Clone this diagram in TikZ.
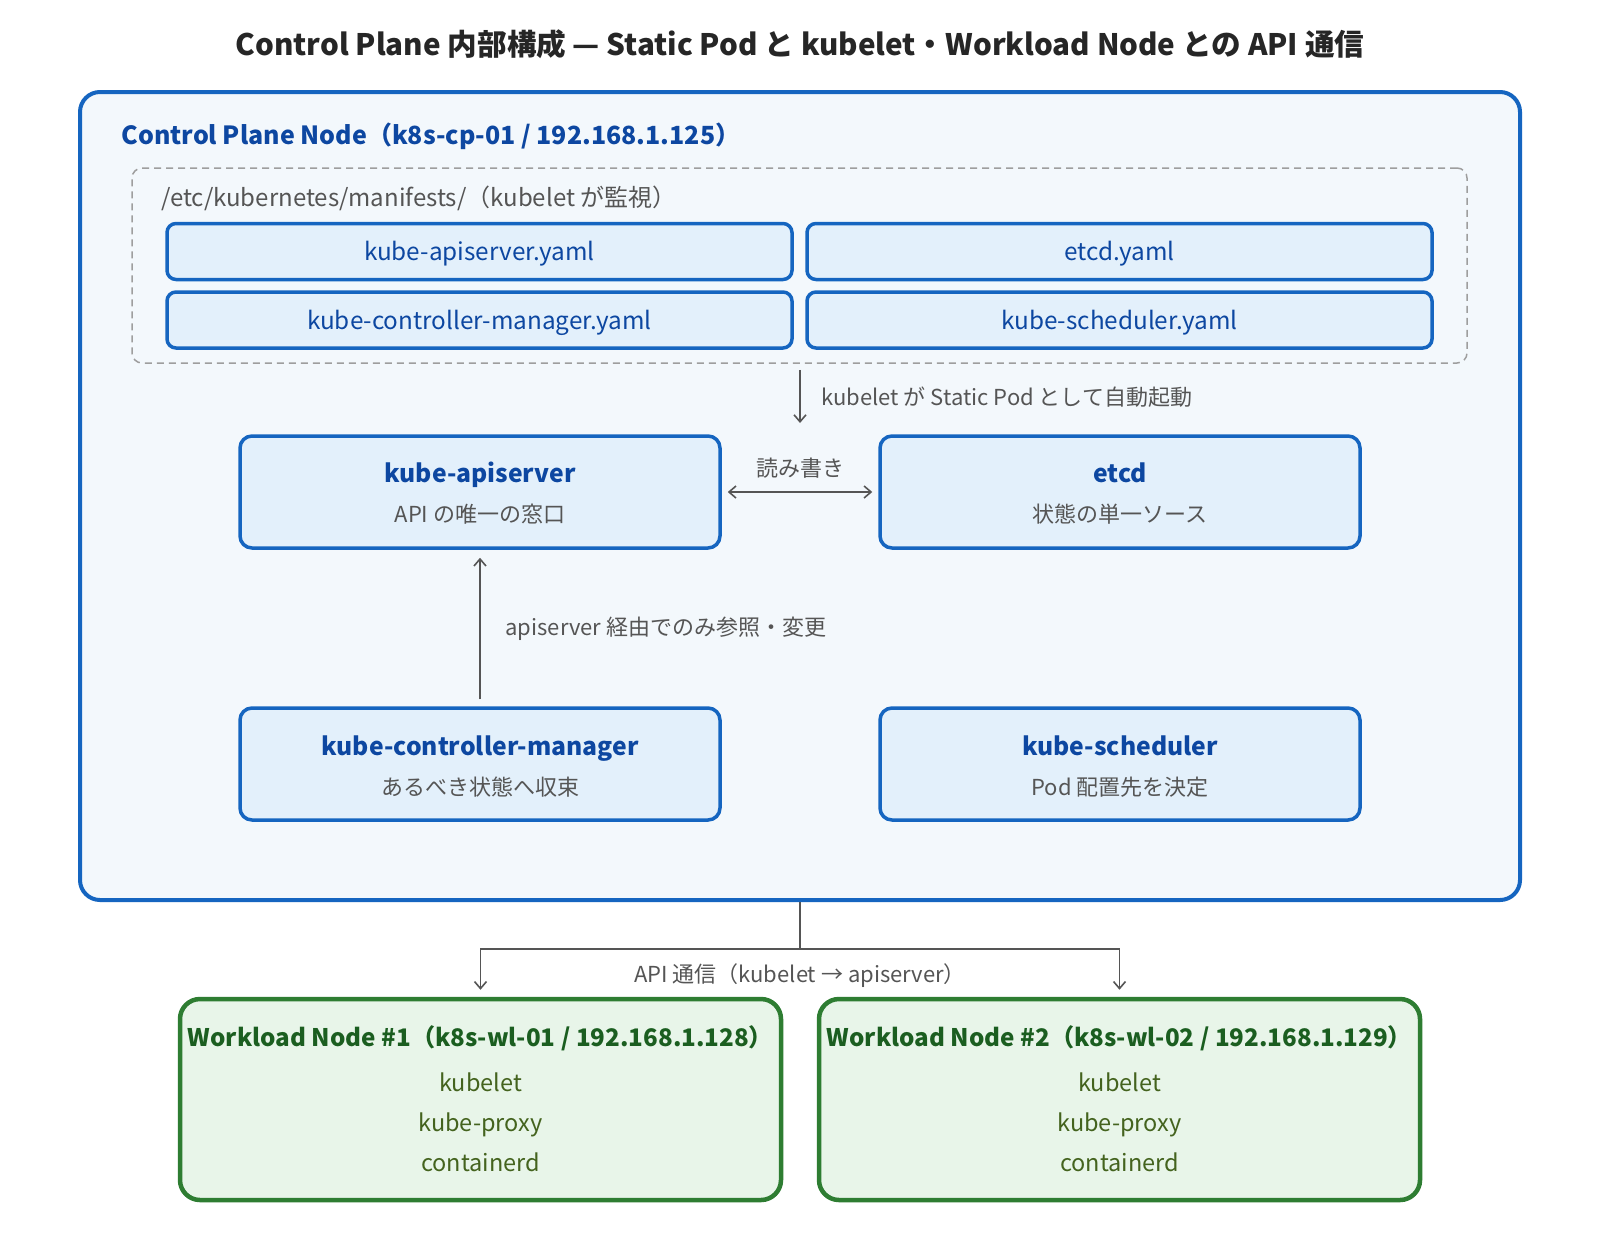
\documentclass[tikz,border=0pt]{standalone}
\usepackage{fontspec}
\setmainfont{Noto Sans CJK JP}
\usetikzlibrary{arrows.meta}
\definecolor{cpblue}{HTML}{1565C0}
\definecolor{cpfill}{HTML}{F3F8FC}
\definecolor{boxfill}{HTML}{E3F0FB}
\definecolor{titleblue}{HTML}{0D47A1}
\definecolor{txtgray}{HTML}{555555}
\definecolor{dashgray}{HTML}{9E9E9E}
\definecolor{wlgreen}{HTML}{2E7D32}
\definecolor{wlfill}{HTML}{E8F5E9}
\definecolor{wltitle}{HTML}{1B5E20}
\definecolor{wlitem}{HTML}{44631E}
\newcommand{\fs}[1]{\fontsize{#1}{#1}\selectfont}
\tikzset{
  outerbox/.style={draw=cpblue, line width=4pt, fill=cpfill, rounded corners=20pt, inner sep=0pt},
  dashbox/.style={draw=dashgray, line width=1.5pt, dash pattern=on 7pt off 5pt, rounded corners=10pt, inner sep=0pt},
  yamlbox/.style={draw=cpblue, line width=3.5pt, fill=boxfill, rounded corners=9pt, minimum width=625pt, minimum height=56pt, inner sep=0pt},
  yamltxt/.style={text=titleblue, font=\fs{24.3}, anchor=base},
  compbox/.style={draw=cpblue, line width=3.5pt, fill=boxfill, rounded corners=12pt, minimum width=480pt, minimum height=112pt, inner sep=0pt},
  comptitle/.style={text=titleblue, font=\fs{24.7}\bfseries, anchor=base},
  compsub/.style={text=txtgray, font=\fs{22}},
  wlbox/.style={draw=wlgreen, line width=4.5pt, fill=wlfill, rounded corners=20pt, minimum width=601pt, minimum height=201pt, inner sep=0pt},
  wltitletxt/.style={text=wltitle, font=\fs{24.2}\bfseries},
  wlitemtxt/.style={text=wlitem, font=\fs{23.5}, anchor=base},
  conn/.style={draw=txtgray, line width=1.6pt},
  tip/.style={-{Straight Barb[length=7pt,width=12pt,line width=1.6pt]}},
  elabel/.style={text=txtgray, font=\fs{22}},
}
\begin{document}
\begin{tikzpicture}[x=1pt,y=-1pt]
\useasboundingbox[fill=white] (0,0) rectangle (1600,1240);

\node[font=\fs{29.6}\bfseries, text=black!85] (title) at (800,44) {Control Plane 内部構成 — Static Pod と kubelet・Workload Node との API 通信};

\node[outerbox, minimum width=1440pt, minimum height=808pt] (cp) at (800,496) {};
\node[anchor=west, text=titleblue, font=\fs{25}\bfseries] (cplabel) at (118,136) {Control Plane Node（k8s-cp-01 / 192.168.1.125）};

\node[dashbox, minimum width=1335pt, minimum height=195pt] (man) at (799.5,265.5) {};
\node[anchor=west, text=txtgray, font=\fs{24}] (manlabel) at (158,198) {/etc/kubernetes/manifests/（kubelet が監視）};

\node[yamlbox] (y1) at (479.5,251.5) {};
\node[yamlbox] (y2) at (1119.5,251.5) {};
\node[yamlbox] (y3) at (479.5,320) {};
\node[yamlbox] (y4) at (1119.5,320) {};
\node[yamltxt] at ([yshift=-9pt]y1.center) {kube-apiserver.yaml};
\node[yamltxt] at ([yshift=-9pt]y2.center) {etcd.yaml};
\node[yamltxt] at ([yshift=-9pt]y3.center) {kube-controller-manager.yaml};
\node[yamltxt] at ([yshift=-9pt]y4.center) {kube-scheduler.yaml};

\node[compbox] (api) at (480,492) {};
\node[comptitle] (apit) at (480,482) {kube-apiserver};
\node[compsub] (apis) at (480,514) {API の唯一の窓口};

\node[compbox] (etcd) at (1120,492) {};
\node[comptitle] (etcdt) at (1120,482) {etcd};
\node[compsub] (etcds) at (1120,514) {状態の単一ソース};

\node[compbox] (kcm) at (480,764) {};
\node[comptitle] (kcmt) at (480,755) {kube-controller-manager};
\node[compsub] (kcms) at (480,787) {あるべき状態へ収束};

\node[compbox] (sch) at (1120,764) {};
\node[comptitle] (scht) at (1120,755) {kube-scheduler};
\node[compsub] (schs) at (1120,787) {Pod 配置先を決定};

% static pod arrow
\coordinate (spend) at (800,423);
\draw[conn, tip] (man.south -| spend) ++(0,6) -- (spend);
\node[elabel, anchor=west] (splabel) at (818,397) {kubelet が Static Pod として自動起動};

% read/write
\draw[conn, {Straight Barb[length=7pt,width=12pt,line width=1.6pt]}-{Straight Barb[length=7pt,width=12pt,line width=1.6pt]}, shorten <=6pt, shorten >=6pt] (api.east) -- (etcd.west);
\node[elabel] (rw) at (800,468) {読み書き};

% kcm -> api
\draw[conn, tip, shorten <=7pt, shorten >=8pt] (kcm.north) -- (api.south);
\node[elabel, anchor=west] (kcmlabel) at (502,629) {apiserver 経由でのみ参照・変更};

% workload nodes
\node[wlbox] (wl1) at (480.5,1099.5) {};
\node[wltitletxt] (wl1t) at (480.5,1038) {Workload Node \#1（k8s-wl-01 / 192.168.1.128）};
\node[wlitemtxt] (wl1a) at (480.5,1091) {kubelet};
\node[wlitemtxt] (wl1b) at (480.5,1131) {kube-proxy};
\node[wlitemtxt] (wl1c) at (480.5,1171) {containerd};

\node[wlbox] (wl2) at (1119.5,1099.5) {};
\node[wltitletxt] (wl2t) at (1119.5,1038) {Workload Node \#2（k8s-wl-02 / 192.168.1.129）};
\node[wlitemtxt] (wl2a) at (1119.5,1091) {kubelet};
\node[wlitemtxt] (wl2b) at (1119.5,1131) {kube-proxy};
\node[wlitemtxt] (wl2c) at (1119.5,1171) {containerd};

% API connectors
\coordinate (split) at (800,949);
\draw[conn] (cp.south) -- (split);
\draw[conn, tip, shorten >=7pt] (split) -| (wl1.north);
\draw[conn, tip, shorten >=7pt] (split) -| (wl2.north);
\node[elabel] (apilabel) at (800,976) {API 通信（kubelet → apiserver）};
\end{tikzpicture}
\end{document}
